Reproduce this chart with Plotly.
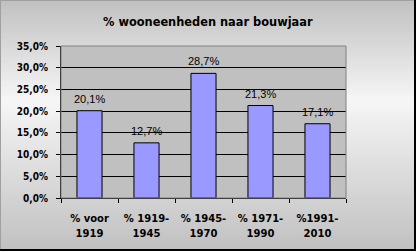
import plotly.graph_objects as go

categories = ["% voor 1919", "% 1919-1945", "% 1945-1970", "% 1971-1990", "%1991-2010"]
tick_lines = [("% voor", "1919"), ("% 1919-", "1945"), ("% 1945-", "1970"), ("% 1971-", "1990"), ("%1991-", "2010")]
values = [20.1, 12.7, 28.7, 21.3, 17.1]
labels = ["20,1%", "12,7%", "28,7%", "21,3%", "17,1%"]
title = "% wooneenheden naar bouwjaar"

W, H = 416, 251
L, R, T, B = 61, 70, 46, 53
PW, PH = W - L - R, H - T - B

def px_x(p):
    return (p - L) / PW

def px_y(p):
    return (H - B - p) / PH

def shade(y):
    top, mid, bot = 192, 246, 192
    peak = 100
    if y <= peak:
        v = top + (mid - top) * y / peak
    else:
        v = mid + (bot - mid) * (y - peak) / (H - peak)
    v = int(round(v))
    return f"rgb({v},{v},{v})"

shapes = []
step = 3
for y0 in range(0, H, step):
    shapes.append(dict(type="rect", xref="paper", yref="paper", layer="below",
                       x0=px_x(0), x1=px_x(W), y0=px_y(y0 + step + 0.5), y1=px_y(y0),
                       fillcolor=shade(y0 + step / 2), line=dict(width=0)))
shapes.append(dict(type="rect", xref="paper", yref="paper", layer="below",
                   x0=0, x1=1, y0=0, y1=1, fillcolor="#c0c0c0", line=dict(width=0)))
shapes.append(dict(type="rect", xref="paper", yref="paper", layer="above",
                   x0=0, x1=1, y0=0, y1=1, line=dict(color="#808080", width=1)))
shapes.append(dict(type="rect", xref="paper", yref="paper", layer="above",
                   x0=px_x(0), x1=px_x(1), y0=px_y(H), y1=px_y(0),
                   fillcolor="#a0a0a0", line=dict(width=0)))
shapes.append(dict(type="rect", xref="paper", yref="paper", layer="above",
                   x0=px_x(0), x1=px_x(W), y0=px_y(1), y1=px_y(0),
                   fillcolor="#a0a0a0", line=dict(width=0)))
shapes.append(dict(type="rect", xref="paper", yref="paper", layer="above",
                   x0=px_x(W - 2), x1=px_x(W), y0=px_y(H), y1=px_y(0),
                   fillcolor="black", line=dict(width=0)))
shapes.append(dict(type="rect", xref="paper", yref="paper", layer="above",
                   x0=px_x(0), x1=px_x(W), y0=px_y(H), y1=px_y(H - 2),
                   fillcolor="black", line=dict(width=0)))

fig = go.Figure(go.Bar(
    x=categories, y=values,
    marker=dict(color="#9999ff", line=dict(color="black", width=1)),
    hoverinfo="skip",
))

annotations = [dict(x=c, y=v, text=t, showarrow=False, yanchor="bottom", yshift=4,
                    font=dict(family="Liberation Sans, Arial", size=11, color="black"))
               for c, v, t in zip(categories, values, labels)]
annotations.append(dict(text=f"<b>{title}</b>", xref="paper", yref="paper",
                        x=px_x(208), y=px_y(22), showarrow=False,
                        xanchor="center", yanchor="middle",
                        font=dict(family="DejaVu Sans", size=11.4, color="black")))

ticktext = [f'<span style="font-size:10px">{a}</span><br><span style="font-size:10px">{b}</span>'
            for a, b in tick_lines]

fig.update_layout(
    width=W, height=H,
    margin=dict(l=L, r=R, t=T, b=B),
    paper_bgcolor="rgba(0,0,0,0)",
    plot_bgcolor="rgba(0,0,0,0)",
    separators=",.",
    bargap=0.56,
    showlegend=False,
    shapes=shapes,
    annotations=annotations,
    font=dict(family="DejaVu Sans", size=10, color="black"),
)
fig.update_xaxes(
    showline=True, linecolor="black", linewidth=1,
    ticks="outside", ticklen=4, tickcolor="black", tickson="boundaries",
    tickvals=categories, ticktext=ticktext, ticklabelstandoff=9,
    tickfont=dict(family="DejaVu Sans", size=11.5, color="black", weight="bold"),
    showgrid=False, fixedrange=True,
)
fig.update_yaxes(
    range=[0, 35], dtick=5, tickformat=".1f", ticksuffix="%",
    showline=True, linecolor="black", linewidth=1,
    ticks="outside", ticklen=4, tickcolor="black", ticklabelstandoff=6,
    showgrid=True, gridcolor="black", gridwidth=1,
    tickfont=dict(family="DejaVu Sans Condensed, DejaVu Sans", size=10, color="black", weight="bold"),
    zeroline=False, fixedrange=True,
)

fig.write_html("out.html", config=dict(displayModeBar=False))
